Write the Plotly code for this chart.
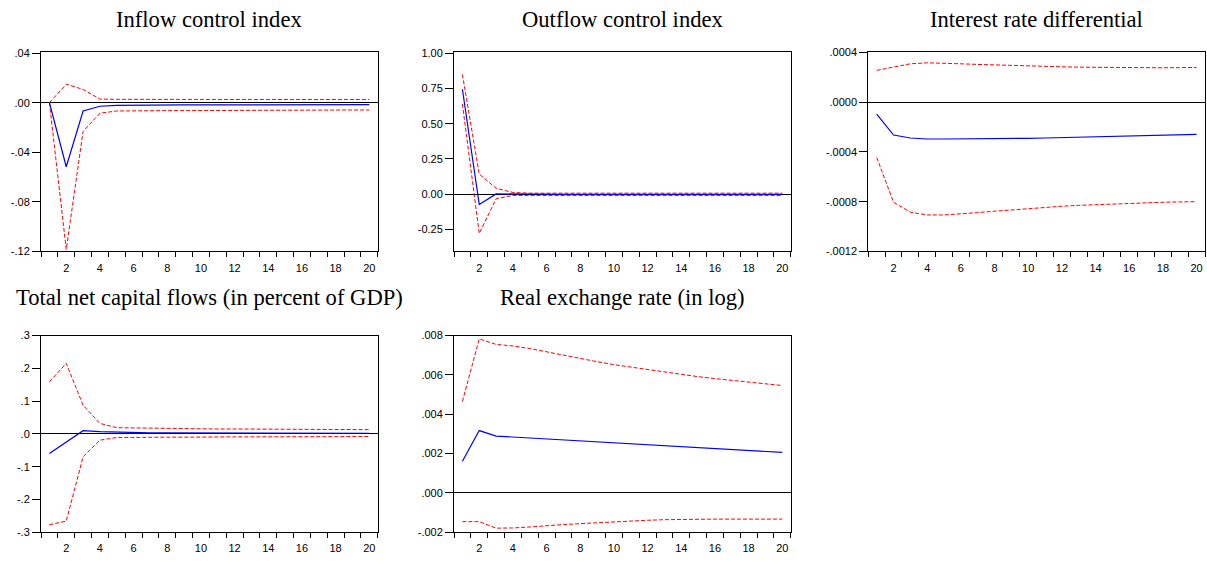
import plotly.graph_objects as go

W, H = 1207, 565
periods = list(range(1, 21))

titles = [
    "Inflow control index",
    "Outflow control index",
    "Interest rate differential",
    "Total net capital flows (in percent of GDP)",
    "Real exchange rate (in log)",
]

# Panel 1: Inflow control index
resp1 = [0, -0.0517, -0.0067, -0.0029, -0.0021, -0.0019, -0.0019, -0.0019, -0.0018, -0.0018,
         -0.0018, -0.0017, -0.0017, -0.0017, -0.0017, -0.0016, -0.0016, -0.0016, -0.0016, -0.0016]
up1 = [0, 0.0149, 0.0107, 0.0029, 0.0027, 0.0026, 0.0026, 0.0026, 0.0026, 0.0026,
       0.0026, 0.0026, 0.0026, 0.0026, 0.0026, 0.0026, 0.0026, 0.0026, 0.0026, 0.0026]
lo1 = [0, -0.1184, -0.0232, -0.0085, -0.0067, -0.0064, -0.0064, -0.0064, -0.0064, -0.0063,
       -0.0063, -0.0062, -0.0062, -0.0061, -0.0061, -0.0061, -0.0060, -0.0060, -0.0059, -0.0059]

# Panel 2: Outflow control index
resp2 = [0.744, -0.074, 0.002, 0.0, -0.002, -0.002, -0.002, -0.002, -0.002, -0.002,
         -0.002, -0.002, -0.002, -0.002, -0.002, -0.002, -0.002, -0.002, -0.002, -0.002]
up2 = [0.849, 0.142, 0.042, 0.012, 0.007, 0.007, 0.007, 0.007, 0.007, 0.007,
       0.007, 0.007, 0.007, 0.007, 0.007, 0.007, 0.007, 0.007, 0.007, 0.007]
lo2 = [0.640, -0.279, -0.033, -0.009, -0.010, -0.010, -0.010, -0.010, -0.010, -0.010,
       -0.010, -0.010, -0.010, -0.010, -0.010, -0.010, -0.010, -0.010, -0.010, -0.010]

# Panel 3: Interest rate differential
resp3 = [-0.000096, -0.000264, -0.000288, -0.000296, -0.000296, -0.000296, -0.000295, -0.000294,
         -0.000293, -0.000291, -0.000288, -0.000285, -0.000281, -0.000277, -0.000275, -0.000272,
         -0.000270, -0.000267, -0.000263, -0.000259]
up3 = [0.000256, 0.000283, 0.000309, 0.000317, 0.000315, 0.000309, 0.000304, 0.000299,
       0.000295, 0.000291, 0.000288, 0.000285, 0.000282, 0.000280, 0.000278, 0.000277,
       0.000277, 0.000277, 0.000278, 0.000280]
lo3 = [-0.000445, -0.000805, -0.000885, -0.000907, -0.000907, -0.000899, -0.000888, -0.000877,
       -0.000866, -0.000856, -0.000846, -0.000837, -0.000830, -0.000824, -0.000818, -0.000813,
       -0.000809, -0.000805, -0.000802, -0.000800]

# Panel 4: Total net capital flows
resp4 = [-0.0597, -0.025, 0.010, 0.007, 0.005, 0.004, 0.003, 0.003, 0.003, 0.002,
         0.002, 0.002, 0.002, 0.002, 0.002, 0.002, 0.002, 0.002, 0.002, 0.002]
up4 = [0.159, 0.215, 0.0876, 0.032, 0.019, 0.018, 0.017, 0.017, 0.016, 0.016,
       0.015, 0.015, 0.015, 0.014, 0.014, 0.014, 0.013, 0.013, 0.013, 0.013]
lo4 = [-0.277, -0.266, -0.0697, -0.019, -0.011, -0.010, -0.010, -0.010, -0.010, -0.009,
       -0.009, -0.009, -0.009, -0.009, -0.008, -0.008, -0.008, -0.008, -0.008, -0.008]

# Panel 5: Real exchange rate
resp5 = [0.00161, 0.00317, 0.00289, 0.00284, 0.00279, 0.00274, 0.00269, 0.00264, 0.00259, 0.00254,
         0.00249, 0.00244, 0.00240, 0.00236, 0.00231, 0.00226, 0.00222, 0.00217, 0.00212, 0.00206]
up5 = [0.00465, 0.00783, 0.00755, 0.00747, 0.00734, 0.00717, 0.00699, 0.00682, 0.00667, 0.00652,
       0.00639, 0.00626, 0.00614, 0.00602, 0.00591, 0.00581, 0.00572, 0.00563, 0.00554, 0.00546]
lo5 = [-0.00146, -0.00146, -0.00179, -0.00178, -0.00173, -0.00166, -0.00161, -0.00156, -0.00151, -0.00146,
       -0.00142, -0.00139, -0.00136, -0.00134, -0.00133, -0.00133, -0.00133, -0.00133, -0.00133, -0.00133]

# Tick values / labels
ytick_vals = [
    [0.04, 0.0, -0.04, -0.08, -0.12],
    [1.0, 0.75, 0.5, 0.25, 0.0, -0.25],
    [0.0004, 0.0, -0.0004, -0.0008, -0.0012],
    [0.3, 0.2, 0.1, 0.0, -0.1, -0.2, -0.3],
    [0.008, 0.006, 0.004, 0.002, 0.0, -0.002],
]
ytick_text = [
    [".04", ".00", "-.04", "-.08", "-.12"],
    ["1.00", "0.75", "0.50", "0.25", "0.00", "-0.25"],
    [".0004", ".0000", "-.0004", "-.0008", "-.0012"],
    [".3", ".2", ".1", ".0", "-.1", "-.2", "-.3"],
    [".008", ".006", ".004", ".002", ".000", "-.002"],
]
xtick_vals = [2, 4, 6, 8, 10, 12, 14, 16, 18, 20]
xtick_text = ["2", "4", "6", "8", "10", "12", "14", "16", "18", "20"]

yranges = [
    [-0.12, 0.0405],
    [-0.406, 1.005],
    [-0.0012, 0.0004],
    [-0.3, 0.3],
    [-0.002, 0.008],
]

responses = [resp1, resp2, resp3, resp4, resp5]
uppers = [up1, up2, up3, up4, up5]
lowers = [lo1, lo2, lo3, lo4, lo5]

# Layout geometry in pixels (left, right, top, bottom)
boxes = [
    (41, 377.7, 47.5, 250.7),
    (454, 790.7, 47.5, 250.7),
    (868.3, 1205, 47.5, 250.7),
    (41, 377.7, 336.7, 537.7),
    (454, 790.7, 336.7, 537.7),
]
title_y = [14, 14, 14, 298, 298]

fig = go.Figure()
annotations = []
layout_axes = {}
for i in range(5):
    n = i + 1
    xa = "x" if n == 1 else f"x{n}"
    ya = "y" if n == 1 else f"y{n}"
    for ys, color, dash, width in [
        (uppers[i], "#ff0000", "4px,2px", 1),
        (lowers[i], "#ff0000", "4px,2px", 1),
        (responses[i], "#0000ff", "solid", 1.2),
    ]:
        fig.add_trace(go.Scatter(
            x=periods, y=ys, mode="lines", xaxis=xa, yaxis=ya,
            line=dict(color=color, dash=dash, width=width),
            showlegend=False, hoverinfo="skip",
        ))
    l, r, t, b = boxes[i]
    xkey = "xaxis" if n == 1 else f"xaxis{n}"
    ykey = "yaxis" if n == 1 else f"yaxis{n}"
    layout_axes[xkey] = dict(
        domain=[l / W, r / W], anchor=ya, range=[0.5, 20.5],
        tickmode="array", tickvals=xtick_vals, ticktext=xtick_text,
        ticks="outside", ticklen=6, tickcolor="rgba(0,0,0,0)",
        minor=dict(tick0=0.5, dtick=1, ticks="outside", ticklen=5, tickcolor="black", tickwidth=1),
        showline=True, linecolor="black", linewidth=1, mirror=True,
        showgrid=False, zeroline=False,
        tickfont=dict(family="Liberation Sans, Arial", size=11, color="black"),
    )
    layout_axes[ykey] = dict(
        domain=[1 - b / H, 1 - t / H], anchor=xa, range=yranges[i],
        tickmode="array", tickvals=ytick_vals[i], ticktext=ytick_text[i],
        ticks="outside", ticklen=8, tickcolor="black", tickwidth=1,
        showline=True, linecolor="black", linewidth=1, mirror=True,
        showgrid=False, zeroline=True, zerolinecolor="black", zerolinewidth=1,
        tickfont=dict(family="Liberation Sans, Arial", size=11, color="black"),
    )
    annotations.append(dict(
        text=titles[i], xref="paper", yref="paper",
        x=(l + r) / 2 / W, y=1 - title_y[i] / H,
        xanchor="center", yanchor="middle", showarrow=False,
        font=dict(family="Liberation Serif, Times New Roman", size=22.6, color="black"),
    ))

fig.update_layout(
    width=W, height=H, margin=dict(l=0, r=0, t=0, b=0),
    paper_bgcolor="white", plot_bgcolor="white",
    annotations=annotations, **layout_axes,
)

fig.write_html("out.html")
